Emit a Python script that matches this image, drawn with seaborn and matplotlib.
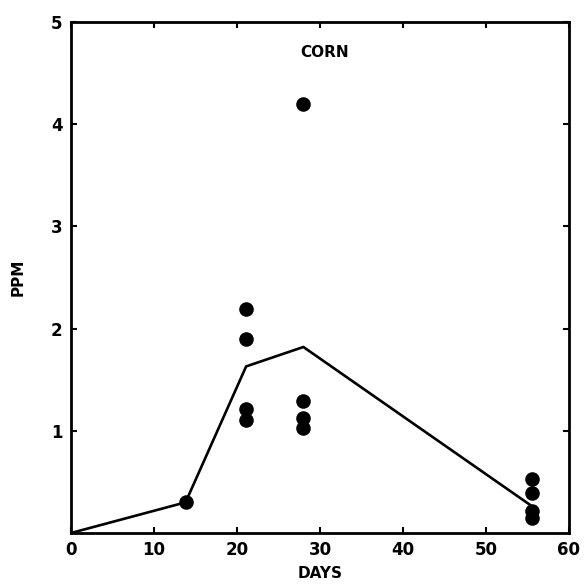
import numpy as np
import matplotlib.pyplot as plt
import seaborn as sns
import pandas as pd

# scattered residue measurements (days after treatment, ppm)
point_days = [13.8, 21.1, 21.1, 21.1, 21.1, 27.9, 27.9, 27.9, 27.9, 55.6, 55.6, 55.6, 55.6]
point_ppm = [0.30, 2.19, 1.90, 1.21, 1.11, 4.20, 1.29, 1.13, 1.03, 0.53, 0.39, 0.22, 0.15]

# mean curve
line_days = [0, 13.8, 21.1, 28.0, 55.4]
line_ppm = [0.0, 0.30, 1.63, 1.82, 0.27]

x_ticks = [0, 10, 20, 30, 40, 50, 60]
y_ticks = [1, 2, 3, 4, 5]

points_df = pd.DataFrame({'days': point_days, 'ppm': point_ppm})
line_df = pd.DataFrame({'days': line_days, 'ppm': line_ppm})

sns.set_style('ticks')
plt.rcParams['font.family'] = ['DejaVu Sans']
plt.rcParams['text.color'] = 'black'
plt.rcParams['axes.labelcolor'] = 'black'
plt.rcParams['xtick.color'] = 'black'
plt.rcParams['ytick.color'] = 'black'

fig = plt.figure(figsize=(5.85, 5.85), dpi=100)
ax = fig.add_axes([0.1214, 0.0889, 0.8512, 0.8735])

sns.lineplot(data=line_df, x='days', y='ppm', color='black', linewidth=1.9, ax=ax)
sns.scatterplot(data=points_df, x='days', y='ppm', color='black', s=110,
                edgecolor='black', linewidth=0, ax=ax, zorder=3)

ax.set_xlim(0, 60)
ax.set_ylim(0, 5)
ax.set_xticks(x_ticks)
ax.set_yticks(y_ticks)
ax.set_xticklabels([str(t) for t in x_ticks], fontsize=12, fontweight='bold')
ax.set_yticklabels([str(t) for t in y_ticks], fontsize=12, fontweight='bold')
ax.tick_params(direction='in', length=4, width=1.5, top=True, right=True, pad=6)
for side in ax.spines.values():
    side.set_linewidth(2)
    side.set_color('black')

ax.set_xlabel('DAYS', fontsize=11, fontweight='bold', labelpad=5)
ax.set_ylabel('PPM', fontsize=11, fontweight='bold', labelpad=18)
ax.text(0.51, 0.955, 'CORN', transform=ax.transAxes, ha='center', va='top',
        fontsize=11, fontweight='bold')

plt.savefig('out.png', dpi=100)
plt.close()
